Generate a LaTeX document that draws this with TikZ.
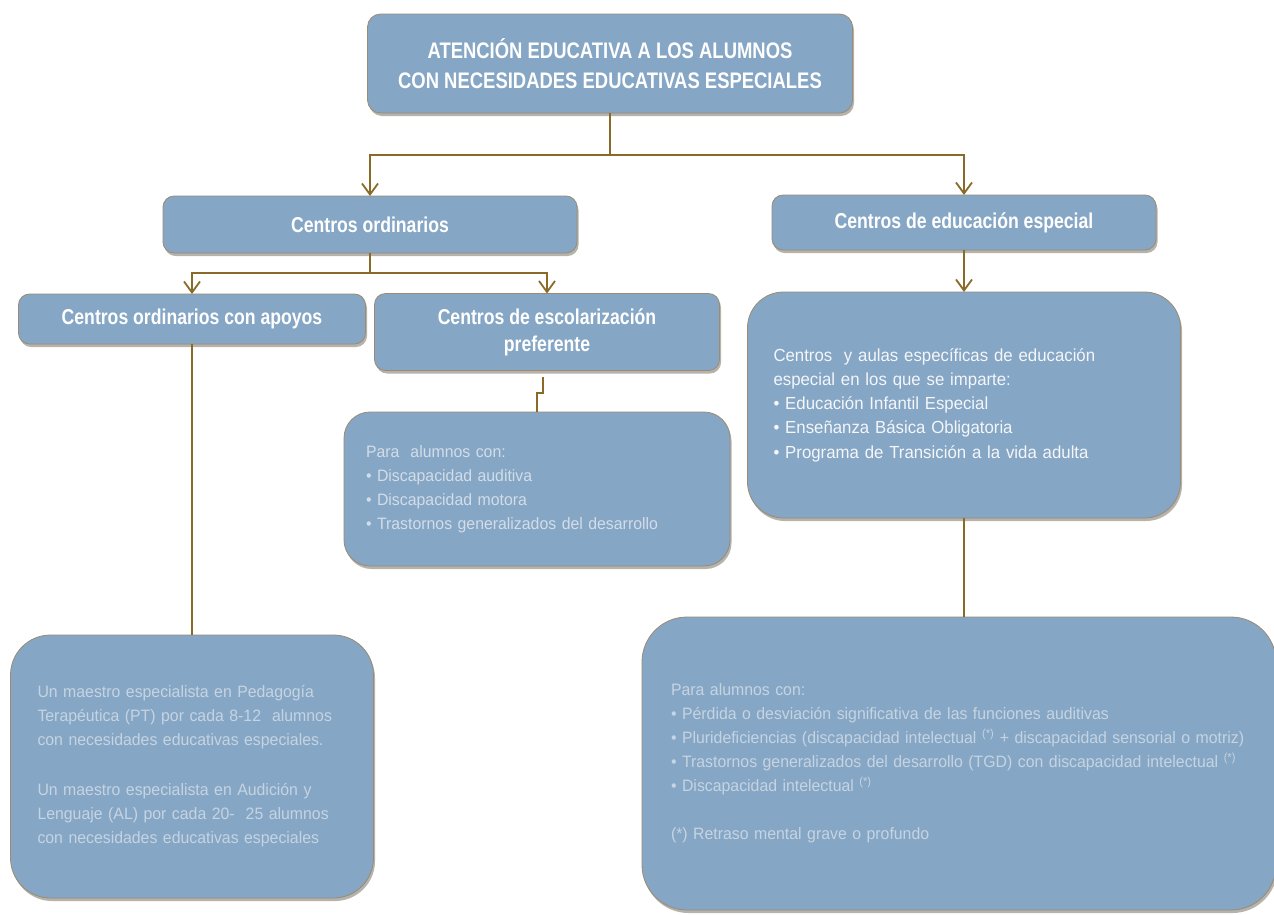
\documentclass[tikz,border=0pt]{standalone}
\usepackage{fontspec}
\setmainfont{Liberation Sans}
\newfontfamily\headfont[FakeStretch=0.82]{Liberation Sans}
\newfontfamily\listfont[FakeStretch=0.96]{Liberation Sans}
\usepackage{tikz}
\usetikzlibrary{arrows.meta,shadows}
\definecolor{Steel}{HTML}{85A6C5}
\definecolor{Rim}{HTML}{9B8B73}
\definecolor{Shade}{HTML}{5E5648}
\definecolor{Bronze}{HTML}{8A6A28}
\definecolor{Snow}{HTML}{F4F6F9}
\definecolor{Pale}{HTML}{D3DDE8}
\definecolor{Mist}{HTML}{C6D4E2}

\begin{document}
\begin{tikzpicture}[x=1pt,y=-1pt,>={Straight Barb[length=11pt,width=16pt]},
  panel/.style={fill=Steel,draw=Rim,line width=0.8pt,outer sep=0pt,
    drop shadow={shadow xshift=1.5pt,shadow yshift=-3pt,opacity=0.45,fill=Shade}},
  headbox/.style={panel,rounded corners=11pt,text=white,align=center,
    font=\headfont\bfseries\fontsize{21.5}{27}\selectfont},
  listbox/.style={panel,align=left,inner ysep=0pt,font=\listfont\fontsize{16.5}{24}\selectfont},
  link/.style={Bronze,line width=1.8pt}]
  \useasboundingbox (0,0) rectangle (1274,914);
  \fill[white] (0,0) rectangle (1274,914);
  \node[headbox,rounded corners=13pt,minimum width=485pt,minimum height=99pt,
    font=\headfont\bfseries\fontsize{22.5}{30}\selectfont] (title) at (610,63.5)
    {ATENCIÓN EDUCATIVA A LOS ALUMNOS\\CON NECESIDADES EDUCATIVAS ESPECIALES};
  \node[headbox,minimum width=414pt,minimum height=57pt] (ordinarios) at (370,224.5) {Centros ordinarios};
  \node[headbox,minimum width=384pt,minimum height=55pt] (especial) at (964,222.5) {Centros de educación especial};
  \node[headbox,minimum width=347pt,minimum height=50pt] (apoyos) at (192,319) {Centros ordinarios con apoyos};
  \node[headbox,minimum width=345pt,minimum height=77pt] (preferente) at (547,332) {Centros de escolarización\\preferente};
  \node[listbox,rounded corners=26pt,minimum width=386pt,minimum height=154pt,inner xsep=22pt,
    text width=342pt,text=Pale] (prefAlumnos) at (537,489)
    {Para\ \ alumnos con:\\• Discapacidad auditiva\\• Discapacidad motora\\• Trastornos generalizados del desarrollo};
  \node[listbox,rounded corners=36pt,minimum width=433pt,minimum height=226pt,inner xsep=26pt,
    text width=381pt,text=Snow,font=\listfont\fontsize{17.5}{24.3}\selectfont] (especialCentros) at (964,405)
    {Centros\ \ y aulas específicas de educación\\especial en los que se imparte:\\• Educación Infantil Especial\\%
     • Enseñanza Básica Obligatoria\\• Programa de Transición a la vida adulta};
  \node[listbox,rounded corners=40pt,minimum width=363pt,minimum height=263pt,inner xsep=27pt,
    text width=309pt,text=Mist] (apoyosMaestros) at (192,766.5)
    {Un maestro especialista en Pedagogía\\Terapéutica (PT) por cada 8-12\ \ alumnos\\con necesidades educativas especiales.\\[26pt]%
     Un maestro especialista en Audición y\\Lenguaje (AL) por cada 20-\ \ 25 alumnos\\con necesidades educativas especiales};
  \node[listbox,rounded corners=45pt,minimum width=634pt,minimum height=293pt,inner xsep=29pt,
    text width=576pt,text=Mist] (especialAlumnos) at (959,763.5)
    {Para alumnos con:\\• Pérdida o desviación significativa de las funciones auditivas\\%
     • Plurideficiencias (discapacidad intelectual \textsuperscript{(*)} + discapacidad sensorial o motriz)\\%
     • Trastornos generalizados del desarrollo (TGD) con discapacidad intelectual \textsuperscript{(*)}\\%
     • Discapacidad intelectual \textsuperscript{(*)}\\[24pt](*) Retraso mental grave o profundo};
  \coordinate (topSplit) at (610,155);
  \draw[link] (title.south) -- (topSplit);
  \draw[link,->] (topSplit) -| (ordinarios.north);
  \draw[link,->] (topSplit) -| (especial.north);
  \coordinate (ordSplit) at (370,273);
  \draw[link] (ordinarios.south) -- (ordSplit);
  \draw[link,->] (ordSplit) -| (apoyos.north);
  \draw[link,->] (ordSplit) -| (preferente.north);
  \draw[link,->] (especial.south) -- (especialCentros.north);
  \coordinate (prefTail) at (543,377);
  \draw[link] (prefTail) -- ++(0,16) -| (prefAlumnos.north);
  \draw[link] (apoyos.south) -- (apoyosMaestros.north);
  \draw[link] (especialCentros.south) -- (especialCentros.south |- especialAlumnos.north);
\end{tikzpicture}
\end{document}
